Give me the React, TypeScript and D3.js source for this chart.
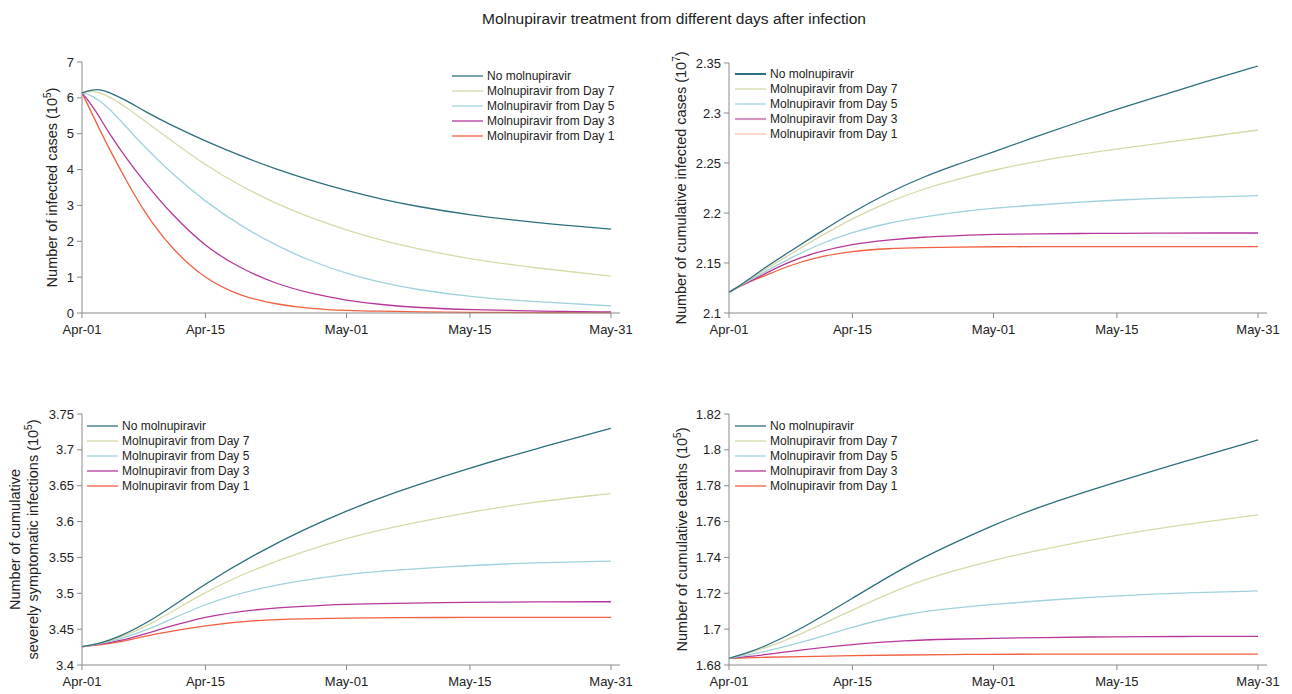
import React from "react";
import * as d3 from "d3";

// ---------- shared ----------
const SERIES = [
  "No molnupiravir",
  "Molnupiravir from Day 7",
  "Molnupiravir from Day 5",
  "Molnupiravir from Day 3",
  "Molnupiravir from Day 1",
];
const COLORS = ["#2d6f7e", "#d7d9a8", "#9fd2dc", "#b7369a", "#f25f41"];
const X_TICKS = [0, 14, 30, 44, 60];
const X_TICK_LABELS = ["Apr-01", "Apr-15", "May-01", "May-15", "May-31"];

// ---------- panel 1: infected cases (10^5) ----------
const DAYS_A = [0, 1, 2, 3, 5, 7, 10, 14, 18, 22, 26, 30, 34, 38, 44, 52, 60];
const INF_NONE = [6.14, 6.22, 6.24, 6.17, 5.93, 5.64, 5.25, 4.79, 4.38, 4.01, 3.69, 3.41, 3.17, 2.97, 2.73, 2.50, 2.34];
const INF_D7 = [6.14, 6.19, 6.15, 6.05, 5.74, 5.38, 4.83, 4.12, 3.54, 3.05, 2.65, 2.31, 2.02, 1.79, 1.50, 1.24, 1.03];
const INF_D5 = [6.14, 6.08, 5.92, 5.72, 5.20, 4.65, 3.93, 3.10, 2.43, 1.88, 1.44, 1.10, 0.84, 0.65, 0.45, 0.30, 0.20];
const INF_D3 = [6.14, 5.84, 5.46, 5.04, 4.32, 3.68, 2.79, 1.84, 1.24, 0.81, 0.54, 0.35, 0.23, 0.15, 0.09, 0.05, 0.03];
const INF_D1 = [6.14, 5.63, 5.12, 4.62, 3.70, 2.84, 1.83, 0.93, 0.47, 0.24, 0.12, 0.07, 0.05, 0.03, 0.02, 0.01, 0.01];
const Y1_TICKS = [0, 1, 2, 3, 4, 5, 6, 7];
const Y1_LABELS = ["0", "1", "2", "3", "4", "5", "6", "7"];

// ---------- panel 2: cumulative infected cases (10^7) ----------
const DAYS_B = [0, 1, 2, 4, 7, 10, 14, 18, 22, 26, 30, 35, 40, 44, 50, 55, 60];
const CUM_NONE = [2.1207, 2.126, 2.132, 2.145, 2.162, 2.179, 2.201, 2.220, 2.236, 2.249, 2.261, 2.277, 2.292, 2.304, 2.320, 2.334, 2.347];
const CUM_D7 = [2.1207, 2.126, 2.132, 2.143, 2.159, 2.175, 2.1947, 2.211, 2.224, 2.234, 2.243, 2.252, 2.259, 2.264, 2.271, 2.277, 2.283];
const CUM_D5 = [2.1207, 2.126, 2.131, 2.141, 2.155, 2.168, 2.181, 2.190, 2.196, 2.201, 2.205, 2.208, 2.211, 2.213, 2.215, 2.216, 2.2173];
const CUM_D3 = [2.1207, 2.126, 2.130, 2.139, 2.152, 2.161, 2.169, 2.173, 2.176, 2.1775, 2.1787, 2.1792, 2.1795, 2.1797, 2.1799, 2.18, 2.18];
const CUM_D1 = [2.1207, 2.1255, 2.130, 2.137, 2.148, 2.156, 2.162, 2.1645, 2.1655, 2.166, 2.1663, 2.1663, 2.1663, 2.1663, 2.1663, 2.1663, 2.1663];
const Y2_TICKS = [2.1, 2.15, 2.2, 2.25, 2.3, 2.35];
const Y2_LABELS = ["2.1", "2.15", "2.2", "2.25", "2.3", "2.35"];

// ---------- panel 3: cumulative severely symptomatic (10^5) ----------
const DAYS_C = [0, 2, 4, 8, 14, 20, 25, 30, 35, 44, 51, 60];
const SEV_NONE = [3.4255, 3.430, 3.438, 3.462, 3.514, 3.557, 3.588, 3.615, 3.639, 3.675, 3.700, 3.730];
const SEV_D7 = [3.4255, 3.4295, 3.4365, 3.457, 3.503, 3.536, 3.558, 3.577, 3.592, 3.6135, 3.627, 3.6391];
const SEV_D5 = [3.4255, 3.4295, 3.435, 3.451, 3.4865, 3.507, 3.518, 3.5265, 3.532, 3.539, 3.5425, 3.5449];
const SEV_D3 = [3.4255, 3.429, 3.4325, 3.4464, 3.4683, 3.478, 3.482, 3.485, 3.486, 3.4873, 3.488, 3.4882];
const SEV_D1 = [3.4255, 3.428, 3.4311, 3.4427, 3.4557, 3.4627, 3.4645, 3.4655, 3.466, 3.4664, 3.4664, 3.4664];
const Y3_TICKS = [3.4, 3.45, 3.5, 3.55, 3.6, 3.65, 3.7, 3.75];
const Y3_LABELS = ["3.4", "3.45", "3.5", "3.55", "3.6", "3.65", "3.7", "3.75"];

// ---------- panel 4: cumulative deaths (10^5) ----------
const DAYS_D = [0, 2, 4, 8, 14, 20, 25, 30, 35, 44, 51, 60];
const DTH_NONE = [1.6837, 1.6866, 1.6902, 1.6995, 1.7172, 1.735, 1.747, 1.7581, 1.768, 1.7822, 1.7925, 1.8055];
const DTH_D7 = [1.6837, 1.6863, 1.6893, 1.6967, 1.7107, 1.724, 1.732, 1.7386, 1.744, 1.7525, 1.758, 1.7637];
const DTH_D5 = [1.6837, 1.6855, 1.6874, 1.6921, 1.7014, 1.7086, 1.7115, 1.7139, 1.7158, 1.7187, 1.7202, 1.7213];
const DTH_D3 = [1.6837, 1.6846, 1.6856, 1.6884, 1.6915, 1.6937, 1.6944, 1.6949, 1.6953, 1.6958, 1.6959, 1.696];
const DTH_D1 = [1.6837, 1.684, 1.6843, 1.6847, 1.6852, 1.6856, 1.6858, 1.686, 1.686, 1.6861, 1.6861, 1.6861];
const Y4_TICKS = [1.68, 1.7, 1.72, 1.74, 1.76, 1.78, 1.8, 1.82];
const Y4_LABELS = ["1.68", "1.7", "1.72", "1.74", "1.76", "1.78", "1.8", "1.82"];

const FONT = "'Liberation Sans', Arial, Helvetica, sans-serif";
const AXIS = "#8a8a8a";
const TXT = "#222";

type PanelProps = {
  left: number;
  top: number;
  bottom: number;
  days: number[];
  series: number[][];
  yDomain: [number, number];
  yTicks: number[];
  yLabels: string[];
  labelX: number;
  labelLines: string[];
  labelSup: string;
  legendX: number;
  legendY: number;
  legendColors?: string[];
  legendWidths?: number[];
};

function Panel(p: PanelProps) {
  const x = d3.scaleLinear().domain([0, 60]).range([p.left, p.left + 529]);
  const y = d3.scaleLinear().domain(p.yDomain).range([p.bottom, p.top]);
  const line = d3
    .line<number>()
    .x((_, i) => x(p.days[i]))
    .y((d) => y(d))
    .curve(d3.curveBasis);
  const yc = (p.top + p.bottom) / 2;
  const nLines = p.labelLines.length;
  return (
    <g>
      {p.series
        .map((s, i) => ({ s, i }))
        .reverse()
        .map(({ s, i }) => (
          <path key={i} d={line(s) || ""} fill="none" stroke={COLORS[i]} strokeWidth={1.3} />
        ))}
      {/* y axis */}
      <line x1={p.left} x2={p.left} y1={y(p.yDomain[1])} y2={p.bottom} stroke={AXIS} strokeWidth={1} />
      {p.yTicks.map((t, i) => (
        <g key={i}>
          <line x1={p.left - 5} x2={p.left} y1={y(t)} y2={y(t)} stroke={AXIS} />
          <text x={p.left - 8} y={y(t)} textAnchor="end" dominantBaseline="central" fontSize={13} fill={TXT} fontFamily={FONT}>
            {p.yLabels[i]}
          </text>
        </g>
      ))}
      {/* x axis */}
      <line x1={p.left} x2={x(60) + 9} y1={p.bottom} y2={p.bottom} stroke={AXIS} strokeWidth={1} />
      {X_TICKS.map((t, i) => (
        <g key={i}>
          <line x1={x(t)} x2={x(t)} y1={p.bottom} y2={p.bottom + 5} stroke={AXIS} />
          <text x={x(t)} y={p.bottom + 16} textAnchor="middle" dominantBaseline="central" fontSize={13} fill={TXT} fontFamily={FONT}>
            {X_TICK_LABELS[i]}
          </text>
        </g>
      ))}
      {/* y label */}
      {p.labelLines.map((ln, k) => {
        const lx = p.labelX + (k - (nLines - 1) / 2) * 18;
        const last = k === nLines - 1;
        return (
          <text
            key={k}
            transform={`translate(${lx},${yc}) rotate(-90)`}
            textAnchor="middle"
            dominantBaseline="central"
            fontSize={14.5}
            fill={TXT}
            fontFamily={FONT}
          >
            {last ? (
              <>
                {ln + " (10"}
                <tspan dy={-5} fontSize={10}>
                  {p.labelSup}
                </tspan>
                <tspan dy={5}>)</tspan>
              </>
            ) : (
              ln
            )}
          </text>
        );
      })}
      {/* legend */}
      {SERIES.map((name, i) => {
        const ly = p.legendY + i * 15;
        return (
          <g key={name}>
            <line
              x1={p.legendX}
              x2={p.legendX + 31}
              y1={ly}
              y2={ly}
              stroke={p.legendColors ? p.legendColors[i] : COLORS[i]}
              strokeWidth={p.legendWidths ? p.legendWidths[i] : 1.3}
            />
            <text x={p.legendX + 35} y={ly} dominantBaseline="central" fontSize={12} fill={TXT} fontFamily={FONT}>
              {name}
            </text>
          </g>
        );
      })}
    </g>
  );
}

export default function App() {
  return (
    <svg width={1292} height={694} style={{ display: "block", position: "absolute", left: 0, top: 0, background: "#fff" }}>
      <rect width={1292} height={694} fill="#fff" />
      <text x={674} y={18} textAnchor="middle" dominantBaseline="central" fontSize={15.5} fill={TXT} fontFamily={FONT}>
        Molnupiravir treatment from different days after infection
      </text>
      <Panel
        left={82}
        top={62}
        bottom={313}
        days={DAYS_A}
        series={[INF_NONE, INF_D7, INF_D5, INF_D3, INF_D1]}
        yDomain={[0, 7]}
        yTicks={Y1_TICKS}
        yLabels={Y1_LABELS}
        labelX={52}
        labelLines={["Number of infected cases"]}
        labelSup="5"
        legendX={452}
        legendY={76}
      />
      <Panel
        left={729}
        top={63}
        bottom={313}
        days={DAYS_B}
        series={[CUM_NONE, CUM_D7, CUM_D5, CUM_D3, CUM_D1]}
        yDomain={[2.1, 2.35]}
        yTicks={Y2_TICKS}
        yLabels={Y2_LABELS}
        labelX={681}
        labelLines={["Number of cumulative infected cases"]}
        labelSup="7"
        legendX={735}
        legendY={74}
        legendColors={["#2d6f7e", "#d7d9a8", "#9fd2dc", "#d394c3", "#f9c3b4"]}
        legendWidths={[2, 1.3, 1.3, 2.2, 1.3]}
      />
      <Panel
        left={82}
        top={414}
        bottom={665}
        days={DAYS_C}
        series={[SEV_NONE, SEV_D7, SEV_D5, SEV_D3, SEV_D1]}
        yDomain={[3.4, 3.75]}
        yTicks={Y3_TICKS}
        yLabels={Y3_LABELS}
        labelX={24}
        labelLines={["Number of cumulative", "severely symptomatic infections"]}
        labelSup="5"
        legendX={87}
        legendY={426}
      />
      <Panel
        left={729}
        top={414}
        bottom={665}
        days={DAYS_D}
        series={[DTH_NONE, DTH_D7, DTH_D5, DTH_D3, DTH_D1]}
        yDomain={[1.68, 1.82]}
        yTicks={Y4_TICKS}
        yLabels={Y4_LABELS}
        labelX={682}
        labelLines={["Number of cumulative deaths"]}
        labelSup="5"
        legendX={735}
        legendY={426}
      />
    </svg>
  );
}
